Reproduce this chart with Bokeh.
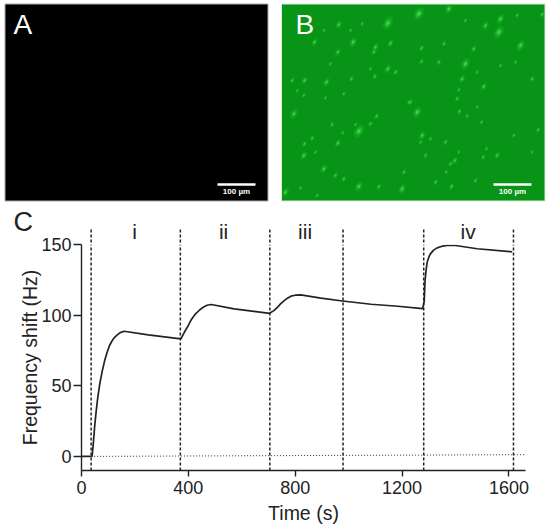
import numpy as np
from bokeh.plotting import figure
from bokeh.embed import file_html
from bokeh.resources import INLINE
from bokeh.layouts import column
from bokeh.models import ColumnDataSource, Label, Whisker, FixedTicker

# curve values
time_s = [0, 38, 40, 45, 49, 55, 61, 69, 78, 87, 96, 105, 115, 124, 134, 145, 159, 250, 372, 384, 396, 410, 427, 443, 459, 470, 486,
          571, 704, 720, 734, 745, 759, 771, 784, 800, 821, 896, 977, 1084, 1184, 1277, 1283, 1286, 1290, 1294, 1300, 1306, 1318,
          1331, 1350, 1369, 1400, 1481, 1612]
freq_hz = [0, 0, 0.5, 11, 20.6, 32, 41.8, 52, 60.7, 68, 73.7, 78.5, 82, 84.3, 86, 87.6, 88.6, 86, 83.2, 87.5, 91.4, 96.5, 100.9, 103.8, 106, 107, 107.5,
           104.4, 101.3, 103.2, 105.6, 108, 110.3, 112, 113.4, 114.1, 114.3, 112, 110, 107.7, 106.3, 104.6, 110, 124.5, 132, 137.5, 141, 143.4, 146,
           147.6, 148.8, 149.3, 149.3, 147, 144.8]
baseline_t = [36, 1660]
baseline_f = [0, 1.2]
step_times = [36, 370, 705, 979, 1281, 1617]
step_names = ["i", "ii", "iii", "iv"]
step_name_t = [199, 532, 837, 1447]
x_ticks = [0, 400, 800, 1200, 1600]
y_ticks = [0, 50, 100, 150]

q1 = [(322,68,3.5),(175,72,2),(218,125,2.5),(102,125,2),(172,155,2),(285,140,2),(330,128,2),(322,205,2.2),(283,228,1.6),
      (72,240,2),(138,245,2.2),(213,235,1.6),(150,190,1.3),(270,205,1.3),(35,240,1.6),(70,285,1.3),(135,292,1.3),(190,280,1.3),
      (385,305,1.3),(345,215,1.6),(280,155,1.6),(130,90,1.3),(245,70,1.3),(50,270,1.2),(210,90,1.3)]
q2 = [(10,40,3.5),(100,25,2.5),(250,95,3.5),(255,55,2.5),(210,75,2.2),(150,190,3),(175,145,1.8),(18,143,1.6),(18,183,1.5),
      (70,185,1.6),(315,135,2.8),(380,42,1.6),(140,235,2),(205,258,2),(350,235,1.6),(300,185,1.3),(255,195,1.3),(185,215,1.3),
      (130,268,1.3),(125,295,1.5),(85,130,1.5),(150,60,1.3),(305,45,1.3)]
q3 = [(235,92,3.5),(40,40,2.5),(95,113,1.6),(72,130,1.6),(155,72,1.5),(288,47,1.6),(172,128,2),(70,165,2.2),(130,205,2.3),
      (165,225,1.6),(295,258,1.6),(365,265,2.5),(235,258,2.6),(370,215,1.5),(190,235,1.6),(15,275,2.2),(390,5,1.5),(270,70,1.5),
      (187,97,1.3),(60,262,1.3),(225,72,1.3),(110,285,1.3),(105,155,1.3)]
q4 = [(5,35,3),(132,33,1.6),(155,47,1.3),(198,65,1.3),(20,105,2.2),(15,125,1.3),(90,125,1.6),(368,88,1.5),(295,105,1.3),
      (213,145,1.3),(245,165,1.8),(203,170,1.5),(118,180,1.8),(105,190,1.5),(92,215,1.3),(180,240,1.5),(108,258,1.8),(60,245,1.6),
      (185,20,1.2),(130,155,1.2),(350,155,1.2),(30,165,1.5),(45,115,1.3)]
quad_origin = [(280, 0), (415, 0), (280, 100), (415, 100)]

INK = "#222222"
FONT = "Liberation Sans"
X0, X1, TMAX = 81, 525, 1662


def time_px(t):
    return X0 + np.asarray(t, dtype=float) * (X1 - X0) / TMAX


top = figure(width=550, height=244, output_backend="svg", toolbar_location=None,
             x_range=(0, 550), y_range=(244, 0), min_border=0, outline_line_color=None, frame_align=False)
top.axis.visible = False
top.grid.visible = False
top.quad(left=[4.5], right=[267.5], top=[3.5], bottom=[200.5], fill_color="#000000", line_color="#a8a8a8", line_width=1)
top.quad(left=[281], right=[544.5], top=[3.5], bottom=[200.5], fill_color="#089416", line_color="#d5ecd5", line_width=1)

sx, sy, ss = [], [], []
for (ox, oy), q in zip(quad_origin, [q1, q2, q3, q4]):
    for zx, zy, s in q:
        sx.append(ox + zx / 3)
        sy.append(oy + zy / 3)
        ss.append(s)
sx, sy, ss = np.array(sx), np.array(sy), np.array(ss)
top.ellipse(sx, sy, width=ss * 2.6, height=ss * 4.2, angle=-0.5, fill_color="#20c030", fill_alpha=0.3, line_color=None)
top.ellipse(sx, sy, width=ss * 1.5, height=ss * 2.4, angle=-0.5, fill_color="#2ed23e", fill_alpha=0.45, line_color=None)
top.ellipse(sx, sy, width=ss * 0.8, height=ss * 1.2, angle=-0.5, fill_color="#48e654", fill_alpha=0.7, line_color=None)

for x0, name, xb in [(13, "A", (217, 255)), (295, "B", (493, 531))]:
    top.add_layout(Label(x=x0, y=24, text=name, text_font=FONT, text_font_size="28px", text_color="#ffffff",
                         text_baseline="middle", text_align="left"))
    top.quad(left=[xb[0]], right=[xb[1]], top=[182.7], bottom=[185.3], fill_color="#ffffff", line_color=None)
    top.add_layout(Label(x=(xb[0] + xb[1]) / 2, y=190.5, text="100 µm", text_font=FONT, text_font_size="8px",
                         text_font_style="bold", text_color="#ffffff", text_baseline="middle", text_align="center"))

# the parts of panel C that stand above its axis: dashed markers, phase names and the panel letter
sp = time_px(step_times)
top.segment(x0=sp, x1=sp, y0=[229] * 6, y1=[244] * 6, line_color=INK, line_width=1.5, line_dash="3 2")
for t, n in zip(step_name_t, step_names):
    top.add_layout(Label(x=float(time_px(t)), y=230.7, text=n, text_font=FONT, text_font_size="21px", text_color=INK,
                         text_align="center", text_baseline="middle"))
top.add_layout(Label(x=13, y=221, text="C", text_font=FONT, text_font_size="27px", text_color=INK,
                     text_align="left", text_baseline="middle"))

p = figure(width=550, height=323, output_backend="svg", toolbar_location=None,
           x_range=(0, TMAX), y_range=(-10, 150),
           min_border_left=X0, min_border_right=550 - X1, min_border_top=39, min_border_bottom=58,
           outline_line_color=None, frame_align=False, margin=(-39, 0, 0, 0),
           background_fill_alpha=0, border_fill_alpha=0)
p.grid.visible = False
p.line(time_s, freq_hz, line_color=INK, line_width=1.7, line_join="round")
p.line(baseline_t, baseline_f, line_color="#333333", line_width=1, line_dash="1 2")

src = ColumnDataSource(dict(t=step_times, lo=[-10] * 6, hi=[150] * 6))
p.add_layout(Whisker(source=src, base="t", lower="lo", upper="hi", dimension="height",
                     upper_head=None, lower_head=None, line_color=INK, line_width=1.5, line_dash="3 2"))

for ax in (p.xaxis[0], p.yaxis[0]):
    ax.axis_line_color = INK
    ax.axis_line_width = 1.4
    ax.major_tick_line_color = INK
    ax.major_tick_line_width = 1.4
    ax.minor_tick_line_color = None
    ax.major_tick_in = 0
    ax.major_label_text_font = FONT
    ax.major_label_text_font_size = "18px"
    ax.major_label_text_color = INK
    ax.axis_label_text_font = FONT
    ax.axis_label_text_font_size = "19.5px"
    ax.axis_label_text_font_style = "normal"
    ax.axis_label_text_color = INK
p.xaxis[0].ticker = FixedTicker(ticks=x_ticks)
p.yaxis[0].ticker = FixedTicker(ticks=y_ticks)
p.xaxis[0].major_tick_out = 6
p.yaxis[0].major_tick_out = 8
p.xaxis[0].major_label_standoff = 4
p.yaxis[0].major_label_standoff = 2
p.xaxis[0].axis_label = "Time (s)"
p.yaxis[0].axis_label = "Frequency shift (Hz)"
p.xaxis[0].axis_label_standoff = 5
p.yaxis[0].axis_label_standoff = -3

page = column(top, p, spacing=0)
open("out.html", "w").write(file_html(page, INLINE))
